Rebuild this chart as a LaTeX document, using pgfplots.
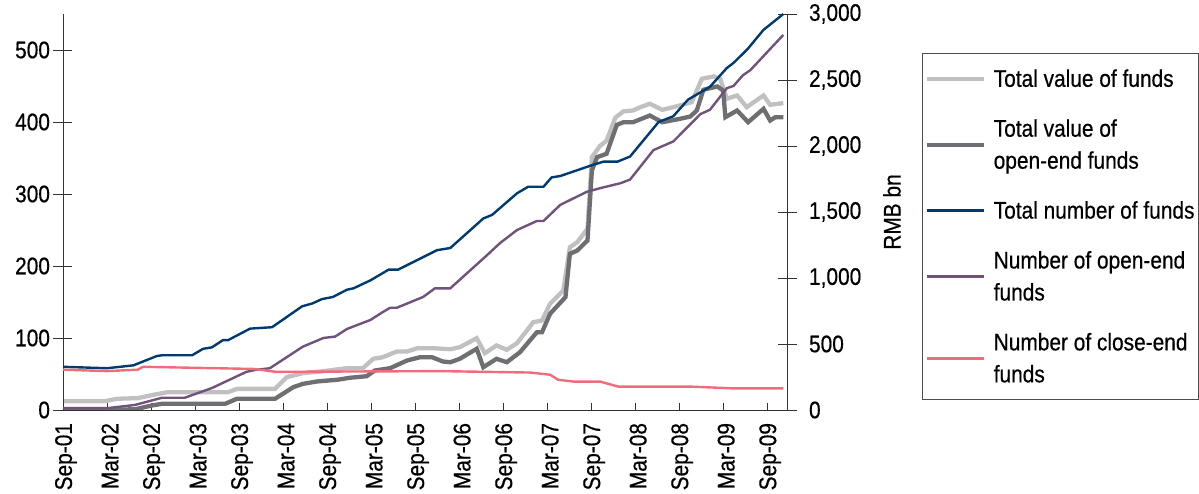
\documentclass[border=0pt]{standalone}
\usepackage{fontspec}
\setmainfont{Liberation Sans}[FakeStretch=0.87, FakeBold=0.5]
\usepackage{pgfplots}
\pgfplotsset{compat=1.18}

\definecolor{lightgrey}{RGB}{192,192,192}
\definecolor{darkgrey}{RGB}{110,111,114}
\definecolor{navy}{RGB}{0,58,112}
\definecolor{plum}{RGB}{112,82,122}
\definecolor{salmon}{RGB}{240,108,122}

\pgfplotsset{
  every axis/.append style={font=\fontsize{24}{32}\selectfont},
  fundbase/.style={
    scale only axis, width=724pt, height=396pt,
    xmin=0, xmax=98.7,
    axis line style={-, black!80, line width=0.8pt},
    tick style={black!80, line width=0.8pt},
    tick align=center, major tick length=19pt,
    /pgf/number format/assume math mode=true,
    /pgf/number format/1000 sep={,},
    no markers,
  },
}

\begin{document}
\begin{tikzpicture}
\path[use as bounding box] (-63pt,-84pt) rectangle (1136pt,410pt);

% values, RMB bn (right axis)
\begin{axis}[fundbase,
  axis x line*=bottom, axis y line*=right,
  ymin=0, ymax=3000, ytick={0,500,...,3000},
  xtick={0,6,...,96},
  xticklabels={Sep-01,Mar-02,Sep-02,Mar-03,Sep-03,Mar-04,Sep-04,Mar-05,Sep-05,Mar-06,Sep-06,Mar-07,Sep-07,Mar-08,Sep-08,Mar-09,Sep-09},
  xtick style={/pgfplots/major tick length=7pt, yshift=3.5pt},
  xticklabel style={rotate=90, anchor=east, yshift=-3pt},
  yticklabel style={anchor=west, xshift=9pt},
  ylabel={RMB bn},
  every axis y label/.style={at={(axis description cs:1.145,0.5)}, anchor=center, rotate=90},
  legend cell align=left,
  legend image code/.code={\path (-9pt,0pt) -- (0pt,0pt); \draw (0pt,0pt) -- (48pt,0pt);},
  legend style={at={(axis description cs:1.1865,0.9015)}, anchor=north west,
    draw=black!70, line width=0.8pt,
    cells={align=left, inner xsep=2pt}, row sep=27pt, column sep=6pt,
    inner xsep=2pt, inner ysep=14pt},
]
\addplot[lightgrey, line width=4.3pt] coordinates {
(0,67) (5.7,67) (7.4,85) (10.2,90) (12.5,117) (14.3,135) (22.5,135) (23.7,160)
(28.9,160) (30.5,249) (32.7,279) (35.5,294) (38.7,317) (40.9,317) (42.3,388)
(43.6,400) (45.5,443) (46.9,443) (48.3,468) (50.5,468) (52.8,460) (54.1,476)
(56.4,544) (57.5,430) (59.1,489) (60.5,456) (61.9,506) (64.1,665) (65.3,678)
(66.4,805) (68.2,905) (69.1,1233) (70.1,1271) (71.5,1373) (72.1,1915) (73.2,2000)
(74.1,2040) (75.3,2215) (76.4,2262) (77.7,2269) (78.7,2294) (80,2320) (81.7,2274)
(84.1,2307) (85.7,2332) (87.1,2509) (88.7,2527) (89.6,2509) (90.5,2358) (91.9,2383)
(93.2,2294) (95.5,2383) (96.4,2312) (98.2,2325)
};
\addplot[darkgrey, line width=4.3pt] coordinates {
(0,0) (9.8,5) (12.1,34) (13.5,47) (22.1,47) (23.7,85) (28.9,85) (31.4,173)
(32.7,198) (34.6,216) (37.4,229) (39.1,244) (41.4,256) (42.5,299) (44.6,317)
(46.9,375) (48.7,400) (50.3,400) (51.8,367) (52.8,362) (54.1,388) (56.4,464)
(57.3,324) (59.1,388) (60.5,362) (62.3,438) (64.6,589) (65.3,589) (66.4,729)
(68.5,855) (69.1,1183) (70.1,1208) (71.5,1284) (72.1,1814) (72.8,1915) (74.1,1941)
(75.5,2160) (76.4,2180) (77.7,2180) (80,2231) (81.7,2180) (84.1,2206) (85.5,2223)
(86.4,2269) (87.3,2426) (89.2,2451) (90,2420) (90.3,2218) (91.9,2269) (93.4,2180)
(95.5,2282) (96.4,2193) (97.1,2218) (98.2,2218)
};
\addlegendimage{navy, line width=2.4pt}
\addlegendimage{plum, line width=2.4pt}
\addlegendimage{salmon, line width=2.4pt}
\legend{Total value of funds, {Total value of\\open-end funds}, Total number of funds, {Number of open-end\\funds}, {Number of close-end\\funds}}
\end{axis}

% counts (left axis)
\begin{axis}[fundbase,
  axis x line=none, axis y line*=left,
  ymin=0, ymax=550, ytick={0,100,...,500},
]
\addplot[navy, line width=2.4pt] coordinates {
(0,60) (6,58) (9.6,62) (12.8,75) (13.5,76) (17.6,76) (19.1,85) (20.3,87)
(21.8,97) (22.5,97) (25.5,113) (28.5,115) (32.6,144) (34,148) (35.3,154)
(36.8,157) (38.7,167) (39.6,169) (41.9,180) (44.4,195) (45.7,195) (51,222)
(52.8,225) (57.3,266) (58.5,271) (61.9,301) (63.4,310) (65.5,310) (66.6,323)
(67.8,325) (72.1,340) (73.7,345) (75.6,345) (77.3,352) (81.2,400) (83.2,408)
(85.2,431) (88.2,449) (90.5,475) (91.4,482) (93.3,501) (95.5,528) (98.2,550)
};
\addplot[plum, line width=2.4pt] coordinates {
(0,2.5) (6,2.5) (9.8,7) (13.5,17) (16.6,17) (20.3,30.5) (25,53) (26.2,55.6)
(28.2,58) (32.7,88) (35.5,100) (37.1,102) (38.7,112.5) (41.9,125) (43.6,136)
(44.6,142) (45.5,142) (49.1,157) (50.7,169) (52.8,169) (57.8,215) (59.6,232)
(61.9,250) (64.6,262.5) (65.5,262.5) (67.8,285) (71.4,303) (73.2,308) (76,315)
(77.3,320) (80.5,361) (83.2,373) (86.9,411) (88.2,417) (90.5,447) (91.4,450)
(92.7,465) (93.7,472) (98.2,521)
};
\addplot[salmon, line width=2.4pt] coordinates {
(0,56) (6,54) (10.2,56) (10.9,60) (26,57) (29,53) (51.4,54) (63.7,52)
(66.4,49) (67.5,42) (69.6,39.5) (73.2,39.5) (75.7,32.5) (85.5,32.5)
(91.4,30) (98.2,30)
};
\end{axis}
\end{tikzpicture}
\end{document}
